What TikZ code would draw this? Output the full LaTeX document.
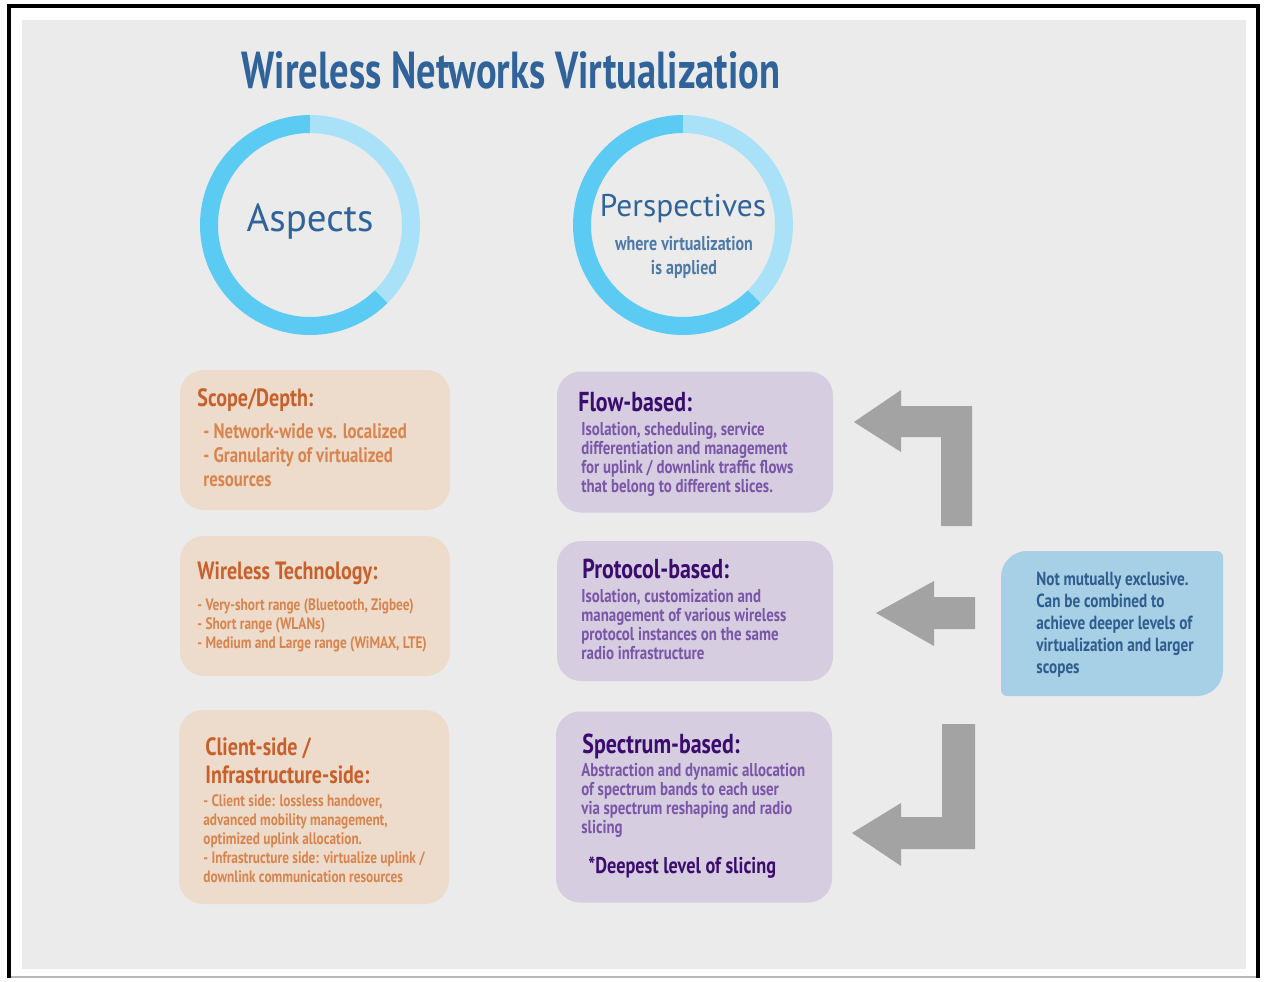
\documentclass[tikz,border=0pt]{standalone}
\usepackage{fontspec}
\setmainfont{PT Sans}
\newfontfamily\dinfont[FakeStretch=0.8]{PT Sans}
\newfontfamily\titlefont[FakeStretch=0.74]{PT Sans}
\usetikzlibrary{positioning,calc}

\definecolor{paper}{HTML}{EBEBEB}
\definecolor{ringlight}{HTML}{A9E2F8}
\definecolor{ringdark}{HTML}{5BCBF4}
\definecolor{titleblue}{HTML}{2F6399}
\definecolor{peach}{HTML}{EDDCCB}
\definecolor{rust}{HTML}{C9602B}
\definecolor{rustlight}{HTML}{D9844E}
\definecolor{lilac}{HTML}{D6CDE0}
\definecolor{grape}{HTML}{3B0C6E}
\definecolor{grapelight}{HTML}{7A56A8}
\definecolor{skybox}{HTML}{A7CFE5}
\definecolor{notetext}{HTML}{2E5D8E}
\definecolor{bentarrow}{HTML}{A3A3A3}

\tikzset{
  maintitle/.style={font=\titlefont\bfseries\fontsize{26}{30}\selectfont, text=titleblue},
  ringtext/.style={font=\fontsize{16.5}{20}\selectfont, text=titleblue},
  ringsub/.style={font=\dinfont\bfseries\fontsize{10}{12}\selectfont, text=titleblue!85, align=center},
  ring/.style={line width=9pt},
  aspectbox/.style={rectangle, rounded corners=12pt, fill=peach, inner sep=0pt, minimum width=135pt},
  viewbox/.style={rectangle, rounded corners=12pt, fill=lilac, inner sep=0pt, minimum width=138pt},
  aspecthead/.style={font=\dinfont\bfseries\fontsize{12.5}{14}\selectfont, text=rust, anchor=north west, inner sep=0pt, align=left},
  aspecttext/.style={font=\dinfont\bfseries\fontsize{8.3}{9.5}\selectfont, text=rustlight, anchor=north west, inner sep=0pt, align=left},
  viewhead/.style={font=\dinfont\bfseries\fontsize{13.7}{14}\selectfont, text=grape, anchor=north west, inner sep=0pt, align=left},
  viewtext/.style={font=\dinfont\bfseries\fontsize{9.3}{9.5}\selectfont, text=grapelight, anchor=north west, inner sep=0pt, align=left},
  notetxt/.style={font=\dinfont\bfseries\fontsize{9.5}{11}\selectfont, text=notetext, anchor=north west, inner sep=0pt, align=left}
}

\begin{document}
\begin{tikzpicture}[x=0.5pt, y=-0.5pt]
  \useasboundingbox (0,0) rectangle (1265,981);

  % paper and frame
  \fill[white] (0,0) rectangle (1265,981);
  \fill[paper] (22,20) rectangle (1246,969);
  \draw[gray!55, line width=1pt] (9,977) -- (1258,977);
  \draw[black, line width=1.6pt] (9,978) -- (9,6) -- (1258,6) -- (1258,978);

  % title
  \node[maintitle] (title) at (511,70) {Wireless Networks Virtualization};

  % rings
  \foreach \cx in {310, 683} {
    \draw[ring, ringdark] (\cx,225) ++(45:101) arc[start angle=45, end angle=270, radius=101];
    \draw[ring, ringlight] (\cx,225) ++(-90:101) arc[start angle=-90, end angle=45, radius=101];
  }
  \node[ringtext, font=\fontsize{19.5}{22}\selectfont] (aspects) at (310,222) {Aspects};
  \node[ringtext, font=\fontsize{15.7}{20}\selectfont] (persp) at (683,209) {Perspectives};
  \node[ringsub] (where) at (684,257) {where virtualization\\is applied};

  % aspects column
  \node[aspectbox, minimum height=70pt] (scope) at (315,440) {};
  \node[aspecthead] (scopehd) at (197,388) {Scope/Depth:};
  \node[aspecttext, font=\dinfont\bfseries\fontsize{10.5}{12}\selectfont] (scopetx) at (203,423)
    {- Network-wide vs. localized\\- Granularity of virtualized\\resources};

  \node[aspectbox, minimum height=70pt] (tech) at (315,606) {};
  \node[aspecthead] (techhd) at (197,561) {Wireless Technology:};
  \node[aspecttext] (techtx) at (197,598)
    {- Very-short range (Bluetooth, Zigbee)\\- Short range (WLANs)\\- Medium and Large range (WiMAX, LTE)};

  \node[aspectbox, minimum height=97pt] (side) at (314,807) {};
  \node[aspecthead] (sidehd) at (205,737) {Client-side /\\Infrastructure-side:};
  \node[aspecttext] (sidetx) at (203,794)
    {- Client side: lossless handover,\\advanced mobility management,\\optimized uplink allocation.\\- Infrastructure side: virtualize uplink /\\downlink communication resources};

  % perspectives column
  \node[viewbox, minimum height=70.5pt] (flow) at (695,442) {};
  \node[viewhead] (flowhd) at (578,392) {Flow-based:};
  \node[viewtext] (flowtx) at (581,422)
    {Isolation, scheduling, service\\differentiation and management\\for uplink / downlink traffic flows\\that belong to different slices.};

  \node[viewbox, minimum height=70pt] (proto) at (695,611) {};
  \node[viewhead] (protohd) at (582,559) {Protocol-based:};
  \node[viewtext] (prototx) at (581,589)
    {Isolation, customization and\\management of various wireless\\protocol instances on the same\\radio infrastructure};

  \node[viewbox, minimum height=95.5pt] (spec) at (694,807) {};
  \node[viewhead] (spechd) at (582,734) {Spectrum-based:};
  \node[viewtext] (spectx) at (581,763)
    {Abstraction and dynamic allocation\\of spectrum bands to each user\\via spectrum reshaping and radio\\slicing};
  \node[viewhead, font=\dinfont\bfseries\fontsize{11.4}{12}\selectfont] (deep) at (588,856) {*Deepest level of slicing};

  % note box, corners rounded unevenly
  \fill[skybox] (1001,577) arc[start angle=180, end angle=270, radius=26]
    -- (1217,551) arc[start angle=270, end angle=360, radius=6]
    -- (1223,670) arc[start angle=0, end angle=90, radius=26]
    -- (1007,696) arc[start angle=90, end angle=180, radius=6] -- cycle;
  \node[notetxt] (note) at (1036,572)
    {Not mutually exclusive.\\Can be combined to\\achieve deeper levels of\\virtualization and larger\\scopes};

  % bent arrows
  \fill[bentarrow] (854,422) -- (901,390) -- (901,406) -- (972,406) -- (972,526)
    -- (941,526) -- (941,437) -- (901,437) -- (901,452) -- cycle;
  \fill[bentarrow] (876,613) -- (934,581) -- (934,597) -- (975,597) -- (975,629)
    -- (934,629) -- (934,646) -- cycle;
  \fill[bentarrow] (852,833) -- (901,803) -- (901,817) -- (942,817) -- (942,724)
    -- (975,724) -- (975,849) -- (901,849) -- (901,866) -- cycle;
\end{tikzpicture}
\end{document}
